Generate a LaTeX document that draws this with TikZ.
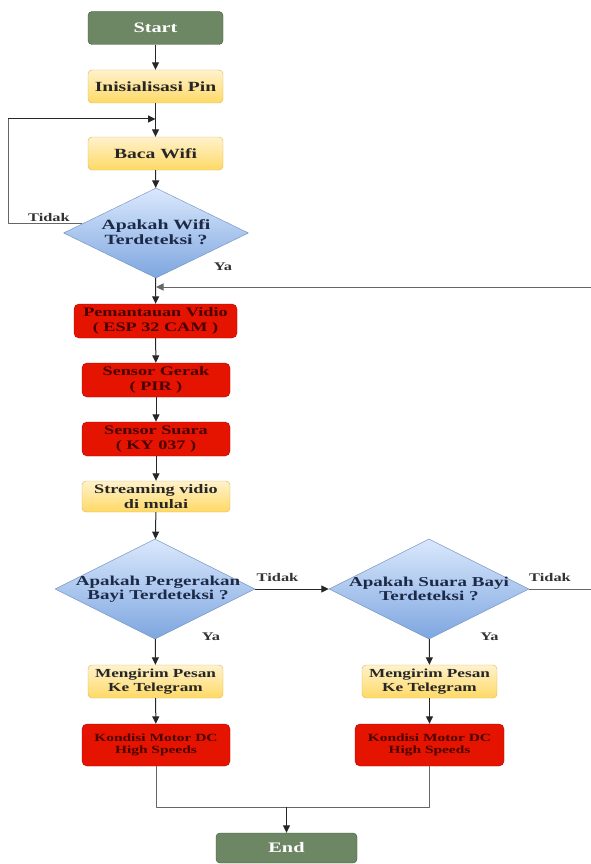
\documentclass[tikz,border=0pt]{standalone}
\usepackage{fontspec}
\setmainfont{Liberation Serif}[FakeStretch=1.4]
\usepackage{tikz}
\usetikzlibrary{calc,shapes.geometric,shadings,arrows.meta}
\definecolor{hijau}{HTML}{6D8764}
\definecolor{hijauTua}{HTML}{3A5431}
\definecolor{kuningAtas}{HTML}{FFF2CC}
\definecolor{kuningBawah}{HTML}{FFD966}
\definecolor{kuningTua}{HTML}{D6B656}
\definecolor{biruAtas}{HTML}{DAE8FC}
\definecolor{biruBawah}{HTML}{7EA6E0}
\definecolor{biruTua}{HTML}{6C8EBF}
\definecolor{merah}{HTML}{E51400}
\definecolor{merahTua}{HTML}{B20000}
\definecolor{teksMerah}{HTML}{4A0000}
\definecolor{teksBiru}{HTML}{1C2A48}

\begin{document}
\begin{tikzpicture}[x=1pt, y=-1pt, line join=round,
    every node/.style={align=center, inner sep=0pt, font=\bfseries\fontsize{13}{15}\selectfont},
    terminal/.style={draw=hijauTua, fill=hijau, text=white, rounded corners=4pt,
        minimum width=135pt, minimum height=33pt, font=\bfseries\fontsize{14.5}{16}\selectfont},
    proses/.style={draw=kuningTua, top color=kuningAtas, bottom color=kuningBawah,
        text=black!85, rounded corners=4pt},
    sensor/.style={draw=merahTua, fill=merah, text=teksMerah, rounded corners=5pt},
    pilihan/.style={diamond, draw=biruTua, top color=biruAtas, bottom color=biruBawah,
        inner sep=0pt},
    tanya/.style={text=teksBiru},
    panah/.style={-{Triangle[length=7.5pt,width=7pt]}, black!85, line width=1pt},
    garis/.style={black!60, line width=1pt},
    ket/.style={font=\bfseries\fontsize{11.7}{13}\selectfont, text=black!80}
]
    \useasboundingbox (0,0) rectangle (591,864);

    \node[terminal] (start) at (155.5,28) {Start};
    \node[proses, minimum width=135pt, minimum height=33pt, font=\bfseries\fontsize{14}{16}\selectfont]
        (init) at (155.5,86.5) {Inisialisasi Pin};
    \node[proses, minimum width=135pt, minimum height=33pt, font=\bfseries\fontsize{14}{16}\selectfont]
        (baca) at (155.5,153.5) {Baca Wifi};
    \node[pilihan, minimum width=185pt, minimum height=90pt] (wifi) at (156,233) {};
    \node[tanya, font=\bfseries\fontsize{14.1}{15}\selectfont] (wifiT) at (156,232)
        {Apakah Wifi\\Terdeteksi ?};

    \node[sensor, minimum width=163pt, minimum height=34pt] (vidio) at (155.5,321)
        {Pemantauan Vidio\\( ESP 32 CAM )};
    \node[sensor, minimum width=148pt, minimum height=34pt] (gerak) at (156,380)
        {Sensor Gerak\\( PIR )};
    \node[sensor, minimum width=148pt, minimum height=34pt] (suara) at (156,439)
        {Sensor Suara\\( KY 037 )};
    \node[proses, minimum width=148pt, minimum height=31pt] (stream) at (156,496.5)
        {Streaming vidio\\di mulai};

    \node[pilihan, minimum width=200pt, minimum height=100pt] (bayi) at (155,589) {};
    \node[tanya, font=\bfseries\fontsize{13.6}{14}\selectfont] (bayiT) at (158,589)
        {Apakah Pergerakan\\Bayi Terdeteksi ?};
    \node[pilihan, minimum width=200pt, minimum height=100pt] (tangis) at (429,589) {};
    \node[tanya, font=\bfseries\fontsize{13.6}{14}\selectfont] (tangisT) at (429,589)
        {Apakah Suara Bayi\\Terdeteksi ?};

    \node[proses, minimum width=135pt, minimum height=33pt, font=\bfseries\fontsize{12.3}{14}\selectfont]
        (kirimA) at (155.5,681.5) {Mengirim Pesan\\Ke Telegram};
    \node[proses, minimum width=135pt, minimum height=33pt, font=\bfseries\fontsize{12.3}{14}\selectfont]
        (kirimB) at (429.5,681.5) {Mengirim Pesan\\Ke Telegram};
    \node[sensor, minimum width=148pt, minimum height=42pt, font=\bfseries\fontsize{11}{11.5}\selectfont]
        (motorA) at (156,745) {Kondisi Motor DC\\High Speeds};
    \node[sensor, minimum width=149pt, minimum height=42pt, font=\bfseries\fontsize{11}{11.5}\selectfont]
        (motorB) at (429.5,745) {Kondisi Motor DC\\High Speeds};

    \node[terminal, minimum width=141pt, minimum height=30pt] (end) at (286.5,848) {End};

    % titik belok
    \coordinate (j1) at (155.5,119);
    \coordinate (kiri) at (8,119);
    \coordinate (tdk) at ($(wifi.west)!0.2!(wifi.north)$);
    \coordinate (j2) at (156,287);
    \coordinate (kanan) at (591,287);
    \coordinate (ujung) at (591,589);
    \coordinate (j3) at (286.5,807);

    \draw[panah] (start) -- (init);
    \draw[panah] (init) -- (baca);
    \draw[panah] (baca) -- (wifi);
    \draw[garis] (tdk) -- (tdk -| kiri) -- (kiri);
    \draw[panah] (kiri) -- (j1);
    \draw[panah] (wifi) -- (vidio);
    \draw[panah, black!60] (kanan) -- (j2);
    \draw[panah] (vidio) -- (gerak);
    \draw[panah] (gerak) -- (suara);
    \draw[panah] (suara) -- (stream);
    \draw[panah] (stream) -- (bayi);
    \draw[panah] (bayi) -- (tangis);
    \draw[garis] (tangis) -- (ujung);
    \draw[panah] (bayi) -- (kirimA);
    \draw[panah] (tangis) -- (kirimB);
    \draw[panah] (kirimA) -- (motorA);
    \draw[panah] (kirimB) -- (motorB);
    \draw[garis] (motorA) |- (j3) -| (motorB);
    \draw[panah] (j3) -- (end);

    \node[ket] (tidakA) at (49,217) {Tidak};
    \node[ket] (yaA) at (223,267) {Ya};
    \node[ket] (tidakB) at (277.5,577) {Tidak};
    \node[ket] (yaB) at (211,637) {Ya};
    \node[ket] (tidakC) at (550,577) {Tidak};
    \node[ket] (yaC) at (489.5,637) {Ya};
\end{tikzpicture}
\end{document}
